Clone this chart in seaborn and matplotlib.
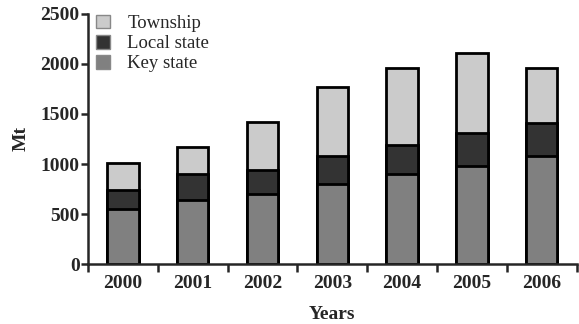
import numpy as np
import pandas as pd
import seaborn as sns
import matplotlib.pyplot as plt
from matplotlib.patches import Patch

# datos (Mt)
years = ['2000', '2001', '2002', '2003', '2004', '2005', '2006']
key_state = [555, 640, 700, 800, 900, 985, 1080]
local_state = [185, 265, 245, 285, 285, 320, 325]
township = [270, 265, 475, 685, 770, 805, 550]

sns.set_style("ticks")
plt.rcParams['font.family'] = ['Liberation Serif', 'DejaVu Serif']

df = pd.DataFrame({'year': years, 'key': key_state, 'local': local_state, 'town': township})
df['c_key'] = df['key']
df['c_local'] = df['key'] + df['local']
df['c_town'] = df['c_local'] + df['town']

fig = plt.figure(figsize=(5.79, 3.24), dpi=100)
ax = fig.add_axes([0.152, 0.185, 0.844, 0.772])

# barras apiladas: se dibuja primero el total y luego encima los acumulados menores
for col, color in [('c_town', '#cbcbcb'), ('c_local', '#333333'), ('c_key', '#808080')]:
    sns.barplot(x='year', y=col, data=df, color=color, width=0.45,
                edgecolor='black', linewidth=2.0, ax=ax, saturation=1)

ax.set_xlim(-0.5, 6.5)
ax.set_ylim(0, 2500)
ax.set_yticks([0, 500, 1000, 1500, 2000, 2500])
ax.set_xticks(np.arange(7))
ax.set_xticklabels(years)
ax.set_xticks(np.arange(-0.5, 7, 1), minor=True)
ax.tick_params(axis='x', which='major', length=0, pad=8)
ax.tick_params(axis='x', which='minor', length=6, width=1.8, direction='out')
ax.tick_params(axis='y', length=5, width=1.8, direction='out', pad=1)
for lab in ax.get_xticklabels() + ax.get_yticklabels():
    lab.set_fontsize(14)
    lab.set_fontweight('bold')

ax.set_xlabel('Years', fontsize=14, fontweight='bold', labelpad=10)
ax.set_ylabel('Mt', fontsize=14, fontweight='bold', labelpad=8)

sns.despine(ax=ax)
ax.spines['left'].set_linewidth(1.8)
ax.spines['bottom'].set_linewidth(1.8)

handles = [Patch(facecolor='#cbcbcb', edgecolor='#888888', label='Township'),
           Patch(facecolor='#333333', edgecolor='#888888', label='Local state'),
           Patch(facecolor='#808080', edgecolor='#888888', label='Key state')]
ax.legend(handles=handles, loc='upper left', bbox_to_anchor=(-0.01, 1.05), frameon=False,
          fontsize=13.5, handlelength=0.75, handleheight=0.75, labelspacing=0.15,
          handletextpad=0.9, borderaxespad=0.3)

plt.savefig('out.png', dpi=100)
plt.close()
